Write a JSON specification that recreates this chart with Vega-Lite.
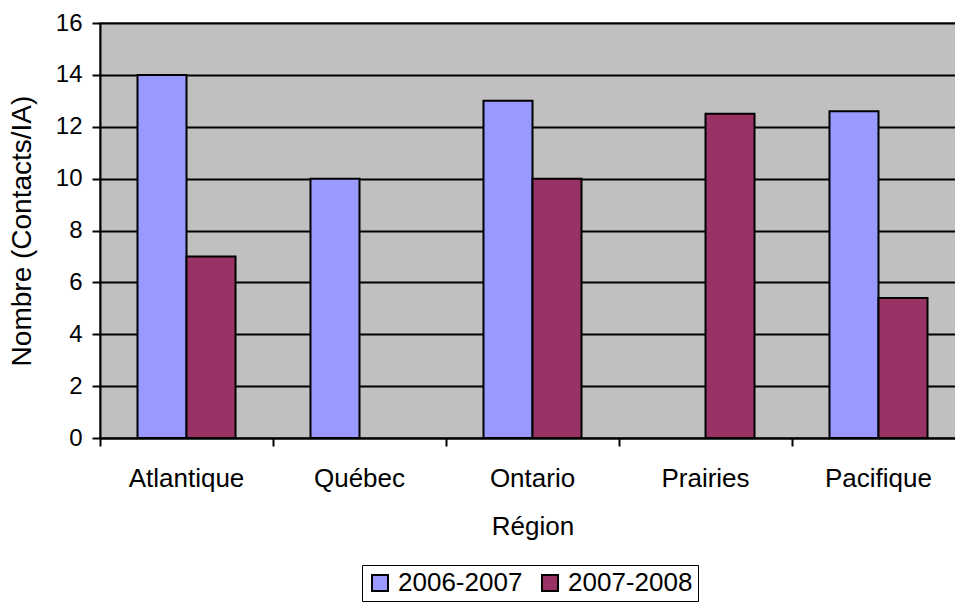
{
  "$schema": "https://vega.github.io/schema/vega-lite/v6.json",
  "width": 865,
  "height": 415,
  "autosize": {"type": "none"},
  "padding": {"left": 100, "top": 23, "right": 0, "bottom": 168},
  "background": "white",
  "config": {
    "font": "Liberation Sans",
    "view": {"fill": "#C0C0C0", "stroke": "#808080", "strokeWidth": 2}
  },
  "data": {
    "values": [
      {"region": "Atlantique", "period": "2006-2007", "value": 14},
      {"region": "Atlantique", "period": "2007-2008", "value": 7},
      {"region": "Québec", "period": "2006-2007", "value": 10},
      {"region": "Ontario", "period": "2006-2007", "value": 13},
      {"region": "Ontario", "period": "2007-2008", "value": 10},
      {"region": "Prairies", "period": "2007-2008", "value": 12.5},
      {"region": "Pacifique", "period": "2006-2007", "value": 12.6},
      {"region": "Pacifique", "period": "2007-2008", "value": 5.4}
    ]
  },
  "mark": {"type": "bar", "stroke": "black", "strokeWidth": 2},
  "encoding": {
    "x": {
      "field": "region",
      "type": "nominal",
      "sort": ["Atlantique", "Québec", "Ontario", "Prairies", "Pacifique"],
      "scale": {"paddingInner": 0, "paddingOuter": 0},
      "axis": {
        "title": "Région",
        "titleFontSize": 26,
        "titleFontWeight": "normal",
        "titleColor": "black",
        "titlePadding": 22,
        "labelFontSize": 26,
        "labelColor": "black",
        "labelAngle": 0,
        "labelPadding": 19,
        "bandPosition": 0,
        "domainColor": "black",
        "domainWidth": 2,
        "tickColor": "black",
        "tickWidth": 2,
        "tickSize": 8,
        "grid": false
      }
    },
    "xOffset": {
      "field": "period",
      "type": "nominal",
      "scale": {"domain": ["2006-2007", "2007-2008"], "paddingInner": 0, "paddingOuter": 0.765}
    },
    "y": {
      "field": "value",
      "type": "quantitative",
      "scale": {"domain": [0, 16], "nice": false},
      "axis": {
        "title": "Nombre (Contacts/IA)",
        "titleFontSize": 28,
        "titleFontWeight": "normal",
        "titleColor": "black",
        "titlePadding": 19,
        "labelFontSize": 24,
        "labelColor": "black",
        "labelPadding": 10,
        "values": [0, 2, 4, 6, 8, 10, 12, 14, 16],
        "domainColor": "black",
        "domainWidth": 2,
        "tickColor": "black",
        "tickWidth": 2,
        "tickSize": 8,
        "grid": true,
        "gridColor": "black",
        "gridWidth": 2,
        "gridOpacity": 1
      }
    },
    "color": {
      "field": "period",
      "type": "nominal",
      "scale": {"domain": ["2006-2007", "2007-2008"], "range": ["#9999FF", "#993366"]},
      "legend": {
        "title": null,
        "orient": "none",
        "legendX": 262,
        "legendY": 542,
        "direction": "horizontal",
        "strokeColor": "black",
        "fillColor": "white",
        "padding": 5,
        "symbolType": "square",
        "symbolSize": 256,
        "symbolStrokeColor": "black",
        "symbolStrokeWidth": 2,
        "symbolOpacity": 1,
        "labelFontSize": 26,
        "labelColor": "black",
        "labelOffset": 5,
        "columnPadding": 14
      }
    }
  }
}
